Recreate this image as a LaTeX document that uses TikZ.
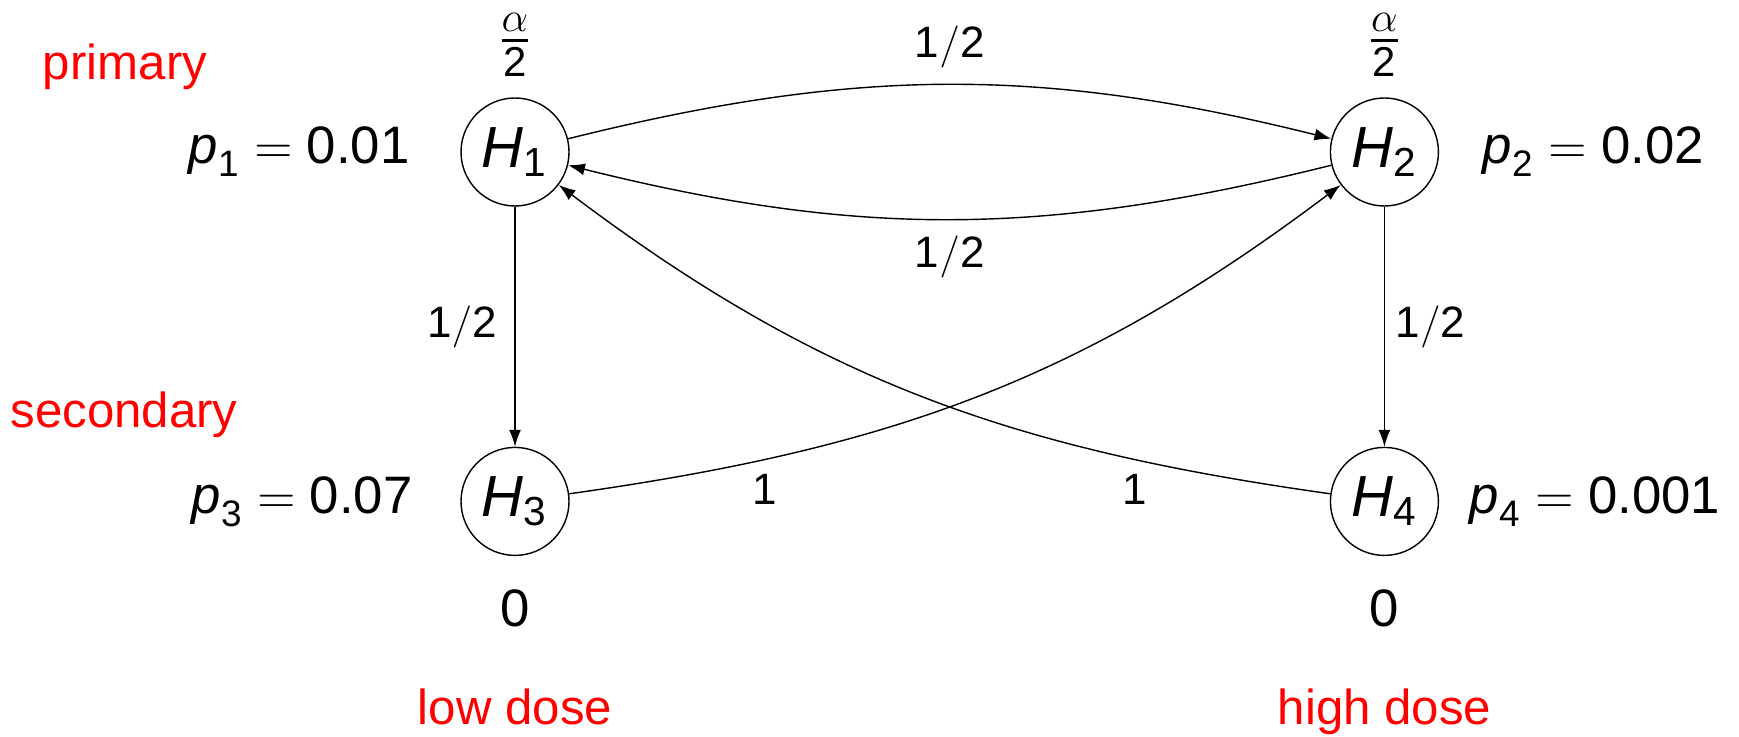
\documentclass[tikz,border=0pt]{standalone}
\usepackage{amsmath}
\usepackage{fontspec}
\setmainfont{Liberation Sans}
\usepackage{tikz}
\usetikzlibrary{arrows.meta,positioning}
\tikzset{
  hnode/.style = {circle, draw=black, thin, minimum size=1.08cm, inner sep=0pt,
                  font=\fontsize{16.5}{18}\selectfont},
  pval/.style  = {inner sep=0pt, font=\fontsize{15}{17}\selectfont},
  alph/.style  = {inner sep=0pt, font=\fontsize{17}{19}\selectfont},
  wt/.style    = {inner sep=0pt, font=\fontsize{12.5}{14}\selectfont},
  tag/.style   = {inner sep=0pt, text=red, font=\fontsize{14}{16}\selectfont},
  fl/.style    = {-{Latex[length=4.8pt,width=3.4pt]}, thin},
}
\newcommand{\pv}[2]{$\textit{p}_{\text{#1}} = \text{#2}$}
\newcommand{\hyp}[1]{$\textit{H}_{\text{#1}}$}
\newcommand{\half}{$\text{1}/\text{2}$}

\begin{document}
\begin{tikzpicture}[node distance=2.4cm and 7.6cm]
  \useasboundingbox (0,0) rectangle (17.39,-7.37);
  \node[hnode] (h1) at (5.15,-1.52) {\hyp{1}};
  \node[hnode, right=of h1] (h2) {\hyp{2}};
  \node[hnode, below=of h1] (h3) {\hyp{3}};
  \node[hnode, right=of h3] (h4) {\hyp{4}};

  \node[pval, left=0.5cm of h1]   (p1) {\pv{1}{0.01}};
  \node[pval, right=0.43cm of h2] (p2) {\pv{2}{0.02}};
  \node[pval, left=0.47cm of h3]  (p3) {\pv{3}{0.07}};
  \node[pval, right=0.3cm of h4]  (p4) {\pv{4}{0.001}};
  \node[alph, above=0.2cm of h1] (a1) {$\frac{\alpha}{\text{2}}$};
  \node[alph, above=0.2cm of h2] (a2) {$\frac{\alpha}{\text{2}}$};
  \node[pval, below=0.33cm of h3] (z3) {0};
  \node[pval, below=0.33cm of h4] (z4) {0};

  \node[tag] (prim) at (1.25,-0.67) {primary};
  \node[tag] (sec)  at (1.24,-4.15) {secondary};
  \node[tag, below=0.6cm of z3] (low)  {low dose};
  \node[tag, below=0.6cm of z4] (high) {high dose};

  \draw[fl] (h1) to[bend left=14] node[wt, above=4.5pt] {\half} (h2);
  \draw[fl] (h2) to[bend left=14] node[wt, below=4.5pt] {\half} (h1);
  \draw[fl] (h1) -- node[wt, left=5pt] {\half} (h3);
  \draw[fl] (h2) -- node[wt, right=3pt] {\half} (h4);
  \draw[fl] (h3) to[out=8, in=217] node[wt, pos=.22, below=4pt] {1} (h2);
  \draw[fl] (h4) to[out=172, in=-37] node[wt, pos=.22, below=4pt] {1} (h1);
\end{tikzpicture}
\end{document}
